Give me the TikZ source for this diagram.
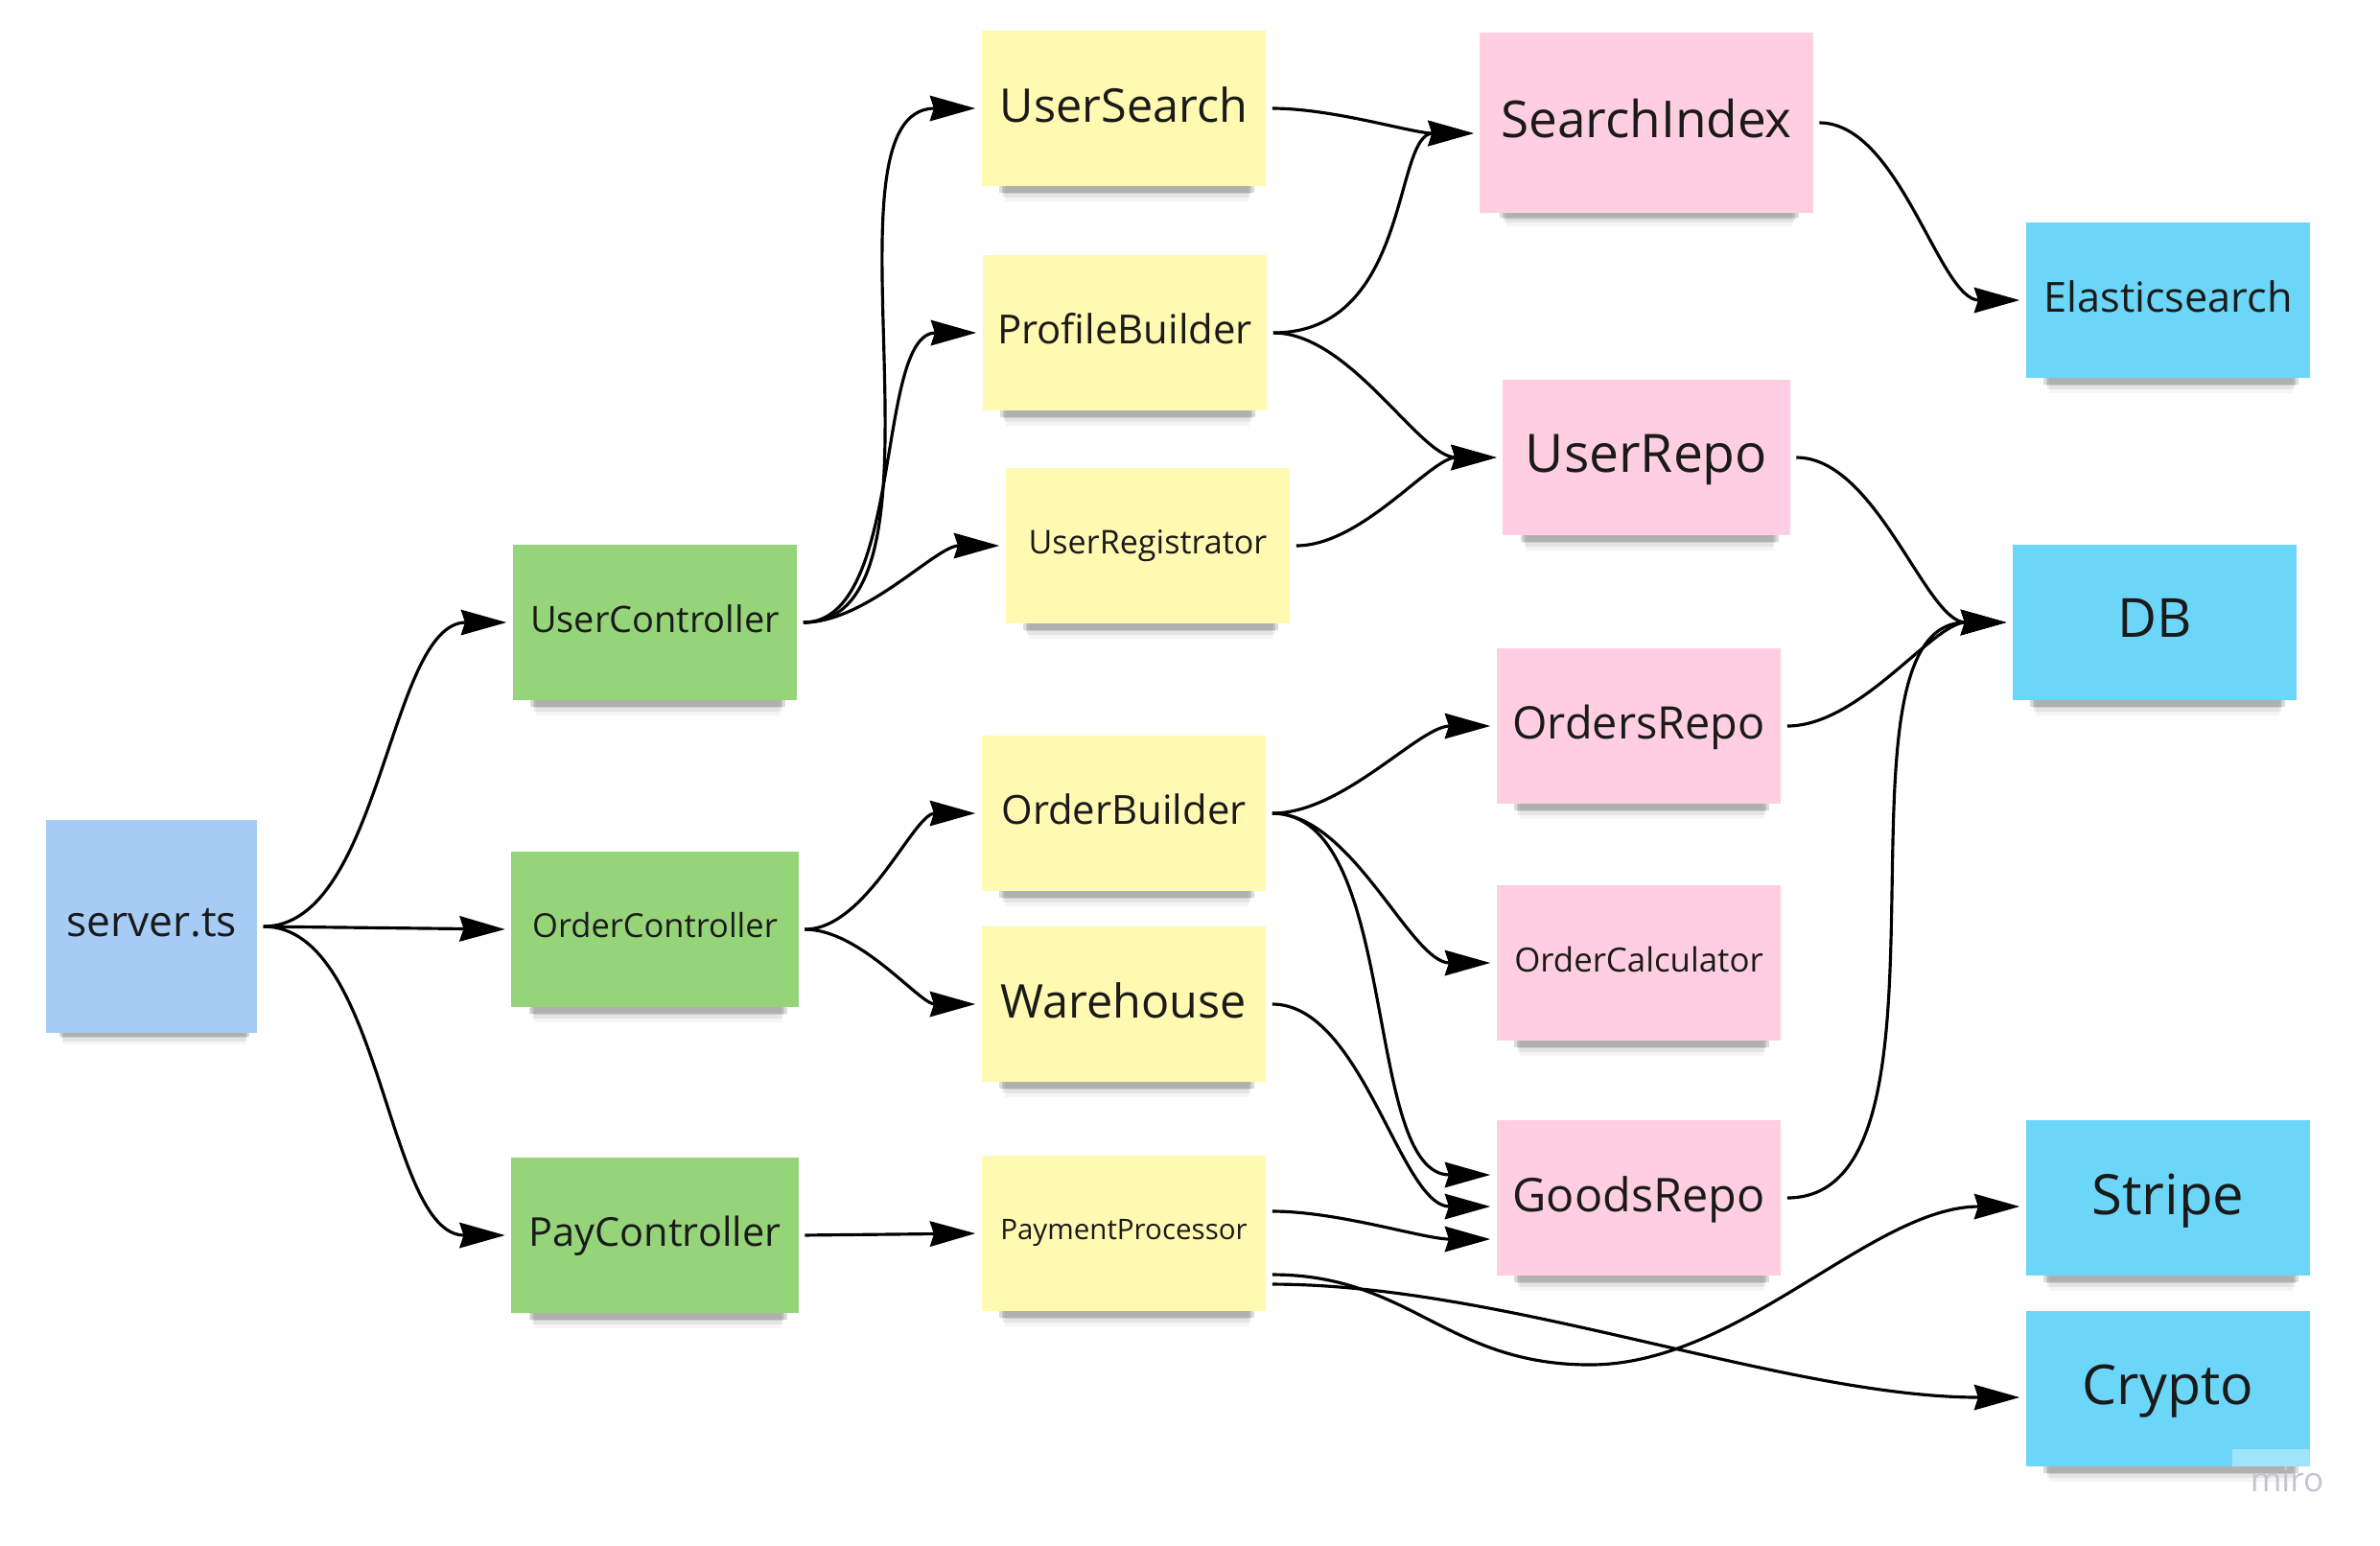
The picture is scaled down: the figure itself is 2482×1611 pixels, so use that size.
\documentclass[tikz,border=0pt]{standalone}
\usepackage{fontspec}
\setmainfont{Open Sans}
\usetikzlibrary{arrows.meta,shadows}

\definecolor{noteblue}{HTML}{A6CCF5}
\definecolor{notegreen}{HTML}{96D47A}
\definecolor{noteyellow}{HTML}{FFF9B1}
\definecolor{notepink}{HTML}{FFCEE0}
\definecolor{notecyan}{HTML}{6CD6F8}
\definecolor{notetext}{HTML}{1A1A1A}
\definecolor{mirogray}{HTML}{C4C4CE}

\newcommand{\fsz}[1]{\fontsize{#1}{#1}\selectfont}

\begin{document}
\begin{tikzpicture}[x=0.01cm, y=-0.01cm,
  note/.style={fill=#1, minimum width=2.96cm, minimum height=1.61cm, inner sep=0pt,
    text=notetext, text depth=0.24em,
    drop shadow={shadow xshift=1pt, shadow yshift=-9pt, shadow scale=0.86, opacity=0.04, fill=black},
    drop shadow={shadow xshift=1pt, shadow yshift=-7.5pt, shadow scale=0.87, opacity=0.07, fill=black},
    drop shadow={shadow xshift=1pt, shadow yshift=-6pt, shadow scale=0.88, opacity=0.1, fill=black},
    drop shadow={shadow xshift=1pt, shadow yshift=-4.8pt, shadow scale=0.9, opacity=0.14, fill=black}},
  link/.style={-{Stealth[length=13.5pt,width=7.5pt,inset=1.2pt]}, line width=0.9pt,
    out=0, in=180, looseness=0.8, shorten <=1.7pt, shorten >=1.7pt}]
\useasboundingbox (0,0) rectangle (2482,1611);

% sticky notes
\node[note=noteblue, minimum width=2.2cm, minimum height=2.22cm, font=\fsz{12.6}] (srv) at (158,966) {server.ts};
\node[note=notegreen, font=\fsz{10.8}] (uc) at (683,649) {UserController};
\node[note=notegreen, minimum width=2.99cm, font=\fsz{9.8}] (oc) at (683,969) {OrderController};
\node[note=notegreen, minimum width=2.99cm, font=\fsz{11.8}] (pc) at (683,1288) {PayController};
\node[note=noteyellow, font=\fsz{13.8}] (us) at (1172,113) {UserSearch};
\node[note=noteyellow, font=\fsz{11.9}] (pb) at (1173,347) {ProfileBuilder};
\node[note=noteyellow, font=\fsz{9.7}] (ur) at (1197,569) {UserRegistrator};
\node[note=noteyellow, font=\fsz{11.9}] (ob) at (1172,848) {OrderBuilder};
\node[note=noteyellow, font=\fsz{13.8}] (wh) at (1172,1047) {Warehouse};
\node[note=noteyellow, font=\fsz{8.4}] (pp) at (1172,1286) {PaymentProcessor};
\node[note=notepink, minimum width=3.47cm, minimum height=1.87cm, font=\fsz{15.1}] (si) at (1717,128) {SearchIndex};
\node[note=notepink, minimum width=2.99cm, font=\fsz{15.7}] (urp) at (1717,477) {UserRepo};
\node[note=notepink, font=\fsz{13.3}] (orp) at (1709,757) {OrdersRepo};
\node[note=notepink, font=\fsz{9.9}] (oca) at (1709,1004) {OrderCalculator};
\node[note=notepink, font=\fsz{13.8}] (gr) at (1709,1249) {GoodsRepo};
\node[note=notecyan, font=\fsz{12.3}] (es) at (2261,313) {Elasticsearch};
\node[note=notecyan, font=\fsz{16}] (db) at (2247,649) {DB};
\node[note=notecyan, font=\fsz{16.5}] (st) at (2261,1249) {Stripe};
\node[note=notecyan, font=\fsz{16.3}] (cr) at (2261,1448) {Crypto};

% watermark
\fill[white, opacity=0.35] (2328,1511) rectangle (2411,1529);
\node[text=mirogray, font=\fsz{10}, inner sep=0pt] (logo) at (2385,1543) {miro};

% connectors
\draw[link] (srv.east) to (uc.west);
\draw[link] (srv.east) -- (oc.west);
\draw[link] (srv.east) to (pc.west);
\draw[link] (uc.east) to (us.west);
\draw[link] (uc.east) to (pb.west);
\draw[link] (uc.east) to (ur.west);
\draw[link] (oc.east) to (ob.west);
\draw[link] (oc.east) to (wh.west);
\draw[link] (pc.east) -- (pp.west);
\draw[link] (us.east) to ([yshift=-0.11cm]si.west);
\draw[link] (pb.east) .. controls +(150,0) and +(-90,0) .. ([yshift=-0.11cm]si.west);
\draw[link] (pb.east) to (urp.west);
\draw[link] (ur.east) to (urp.west);
\draw[link] (si.east) to (es.west);
\draw[link] (urp.east) to (db.west);
\draw[link] (orp.east) to (db.west);
\draw[link] (gr.east) to (db.west);
\draw[link] (ob.east) to (orp.west);
\draw[link] (ob.east) to (oca.west);
\draw[link] (ob.east) to ([yshift=0.24cm]gr.west);
\draw[link] (wh.east) to ([yshift=-0.09cm]gr.west);
\draw[link] ([yshift=0.23cm]pp.east) to ([yshift=-0.43cm]gr.west);
\coordinate (dip) at (1658,1423);
\draw[link] ([yshift=-0.43cm]pp.east) .. controls +(150,0) and +(-150,0) .. (dip)
  .. controls +(157,0) and +(-160,0) .. ([yshift=-0.09cm]st.west);
\draw[link] ([yshift=-0.53cm]pp.east) to ([yshift=-0.09cm]cr.west);
\end{tikzpicture}
\end{document}
